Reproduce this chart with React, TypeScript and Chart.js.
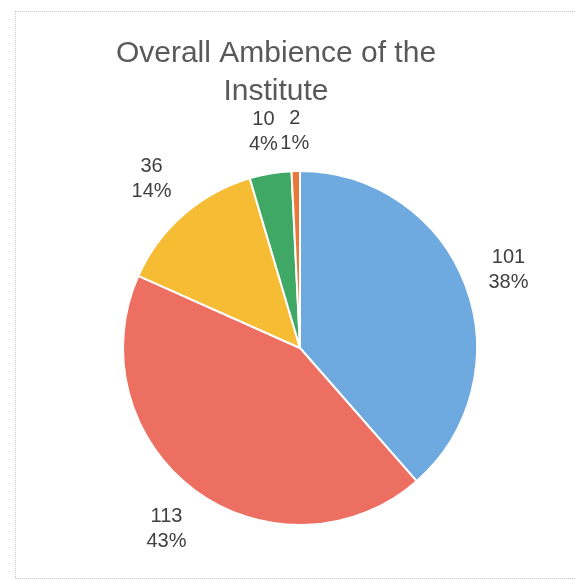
import { useEffect, useRef } from "react";
import { Chart, registerables } from "chart.js";

Chart.register(...registerables);

const categories = ["Excellent", "Very Good", "Good", "Average", "Poor"];
const values = [101, 113, 36, 10, 2];
const percentLabels = ["38%", "43%", "14%", "4%", "1%"];
const sliceColors = ["#6EA9DF", "#EC6F62", "#F6BD34", "#3FA864", "#E9793A"];
const titleLines = ["Overall Ambience of the", "Institute"];

const FONT = '"Liberation Sans", Arial, Helvetica, sans-serif';

const titlePlugin = {
  id: "customTitle",
  afterDraw(chart: any) {
    const ctx = chart.ctx;
    ctx.save();
    ctx.font = `30px ${FONT}`;
    ctx.fillStyle = "#595959";
    ctx.textAlign = "center";
    ctx.textBaseline = "alphabetic";
    const cx = 276;
    titleLines.forEach((line, i) => {
      ctx.fillText(line, cx, 62 + i * 38);
    });
    ctx.restore();
  },
};

const labelPlugin = {
  id: "outsideLabels",
  afterDatasetsDraw(chart: any) {
    const ctx = chart.ctx;
    const meta = chart.getDatasetMeta(0);
    ctx.save();
    ctx.font = `20px ${FONT}`;
    ctx.fillStyle = "#404040";
    ctx.textAlign = "center";
    ctx.textBaseline = "middle";
    const lineH = 25;
    const gap = 20;
    meta.data.forEach((arc: any, i: number) => {
      const { x, y, startAngle, endAngle, outerRadius } = arc.getProps(
        ["x", "y", "startAngle", "endAngle", "outerRadius"],
        true
      );
      const mid = (startAngle + endAngle) / 2;
      const ux = Math.cos(mid);
      const uy = Math.sin(mid);
      const l1 = String(values[i]);
      const l2 = percentLabels[i];
      const hw = Math.max(ctx.measureText(l1).width, ctx.measureText(l2).width) / 2;
      const hh = 20;
      const d = outerRadius + gap + Math.abs(ux) * hw + Math.abs(uy) * hh;
      const cx = x + ux * d;
      const cy = y + uy * d;
      ctx.fillText(l1, cx, cy - lineH / 2);
      ctx.fillText(l2, cx, cy + lineH / 2);
    });
    ctx.restore();
  },
};

export default function App() {
  const canvasRef = useRef<HTMLCanvasElement | null>(null);

  useEffect(() => {
    if (!canvasRef.current) return;
    const chart = new Chart(canvasRef.current, {
      type: "pie",
      data: {
        labels: categories,
        datasets: [
          {
            data: values,
            backgroundColor: sliceColors,
            borderColor: "#ffffff",
            borderWidth: 2,
          },
        ],
      },
      options: {
        responsive: false,
        animation: false,
        layout: { padding: { left: 122, right: 97, top: 170, bottom: 54 } },
        plugins: {
          legend: { display: false },
          title: { display: false },
          tooltip: { enabled: false },
        },
      },
      plugins: [titlePlugin, labelPlugin],
    });
    return () => chart.destroy();
  }, []);

  return (
    <div
      style={{
        position: "absolute",
        left: 0,
        top: 0,
        width: 575,
        height: 580,
        background: "#ffffff",
        overflow: "hidden",
      }}
    >
      <div
        style={{
          position: "absolute",
          left: 15,
          top: 11,
          width: 575,
          height: 566,
          borderTop: "1px dotted #c8c8c8",
          borderLeft: "1px dotted #c8c8c8",
          borderBottom: "1px dotted #c8c8c8",
        }}
      />
      <canvas
        ref={canvasRef}
        width={575}
        height={580}
        style={{ position: "absolute", left: 0, top: 0 }}
      />
    </div>
  );
}
